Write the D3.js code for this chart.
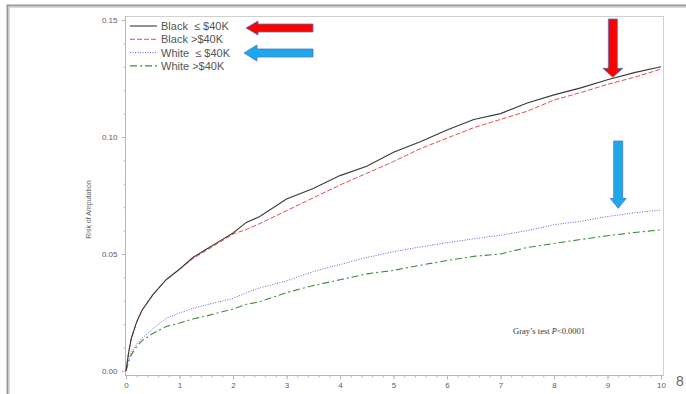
<!DOCTYPE html>
<html>
<head>
<meta charset="utf-8">
<script src="https://cdn.jsdelivr.net/npm/d3@7"></script>
<style>
  body { margin: 0; background: #fff; }
  svg { display: block; }
  text { font-family: "Liberation Sans", Arial, sans-serif; }
</style>
</head>
<body>
<svg id="chart"></svg>
<script>
// time in years
const years = [0, 0.05, 0.1, 0.2, 0.3, 0.5, 0.75, 1, 1.25, 1.5, 1.75, 2, 2.25, 2.5, 3, 3.5, 4, 4.5, 5, 5.5, 6, 6.5, 7, 7.5, 8, 8.5, 9, 9.5, 10];

// cumulative risk of amputation
const blackLow  = [0, 0.008, 0.014, 0.021, 0.026, 0.0325, 0.039, 0.0435, 0.0485, 0.052, 0.0555, 0.059, 0.0635, 0.066, 0.0735, 0.078, 0.0835, 0.0875, 0.0935, 0.098, 0.103, 0.1075, 0.110, 0.1145, 0.118, 0.121, 0.1245, 0.1275, 0.130];
const blackHigh = [0, 0.008, 0.014, 0.021, 0.026, 0.0325, 0.039, 0.0435, 0.048, 0.0515, 0.055, 0.0585, 0.0605, 0.063, 0.0685, 0.074, 0.0795, 0.0845, 0.0895, 0.095, 0.0995, 0.104, 0.1075, 0.111, 0.1158, 0.119, 0.1225, 0.1255, 0.129];
const whiteLow  = [0, 0.005, 0.008, 0.0115, 0.014, 0.018, 0.0225, 0.0248, 0.0268, 0.0283, 0.0296, 0.031, 0.0335, 0.0355, 0.0385, 0.0425, 0.0455, 0.0485, 0.051, 0.053, 0.0548, 0.0565, 0.058, 0.060, 0.0625, 0.064, 0.066, 0.0676, 0.0688];
const whiteHigh = [0, 0.004, 0.007, 0.0105, 0.013, 0.016, 0.019, 0.0205, 0.0222, 0.0235, 0.025, 0.0265, 0.0285, 0.0296, 0.0335, 0.0365, 0.039, 0.0415, 0.043, 0.0452, 0.0472, 0.049, 0.050, 0.0528, 0.0545, 0.0562, 0.0578, 0.0592, 0.0603];

const seriesNames = ["Black  \u2264 $40K", "Black >$40K", "White  \u2264 $40K", "White >$40K"];
const xTicks = [0, 1, 2, 3, 4, 5, 6, 7, 8, 9, 10];
const yTicks = [0, 0.05, 0.10, 0.15];

const W = 686, H = 394;
const svg = d3.select("#chart").attr("width", W).attr("height", H);
svg.append("rect").attr("width", W).attr("height", H).attr("fill", "#fff");

// slide frame
svg.append("path").attr("d", "M7.5,394 V5.5 H686").attr("fill", "none")
  .attr("stroke", "#999").attr("stroke-width", 2);
svg.append("path").attr("d", "M9.5,394 V7.5 H686").attr("fill", "none")
  .attr("stroke", "#d8d8d8").attr("stroke-width", 1);

const x = d3.scaleLinear().domain([0, 10]).range([126, 661]);
const y = d3.scaleLinear().domain([0, 0.15]).range([371, 20]);

const box = { left: 125, right: 663, top: 16, bottom: 375 };

// plot frame
svg.append("rect")
  .attr("x", box.left + 0.5).attr("y", box.top + 0.5)
  .attr("width", box.right - box.left).attr("height", box.bottom - box.top)
  .attr("fill", "none").attr("stroke", "#d0d0d0");

const axisCol = "#b8b8b8", labelCol = "#606060";

// x axis
const xAxis = svg.append("g").attr("transform", `translate(0,${box.bottom + 0.5})`);
xAxis.append("g")
  .call(d3.axisBottom(x).tickValues(d3.range(0, 10.001, 0.2)).tickSize(2).tickFormat(""))
  .call(g => g.select(".domain").remove())
  .call(g => g.selectAll("line").attr("stroke", axisCol));
xAxis.append("g")
  .call(d3.axisBottom(x).tickValues(xTicks).tickSize(4).tickPadding(3).tickFormat(d3.format("d")))
  .call(g => g.select(".domain").attr("stroke", axisCol).attr("d", `M${box.left},0H${box.right}`))
  .call(g => g.selectAll("line").attr("stroke", axisCol))
  .call(g => g.selectAll("text").attr("fill", labelCol).attr("font-size", 8)
    .style("font-family", '"Liberation Sans", Arial, sans-serif'));

// y axis
const yAxis = svg.append("g").attr("transform", `translate(${box.left + 0.5},0)`);
yAxis.append("g")
  .call(d3.axisLeft(y).tickValues(d3.range(0, 0.1501, 0.01)).tickSize(2).tickFormat(""))
  .call(g => g.select(".domain").remove())
  .call(g => g.selectAll("line").attr("stroke", axisCol));
yAxis.append("g")
  .call(d3.axisLeft(y).tickValues(yTicks).tickSize(4).tickPadding(4).tickFormat(d3.format(".2f")))
  .call(g => g.select(".domain").attr("stroke", axisCol).attr("d", `M0,${box.top}V${box.bottom}`))
  .call(g => g.selectAll("line").attr("stroke", axisCol))
  .call(g => g.selectAll("text").attr("fill", labelCol).attr("font-size", 8)
    .style("font-family", '"Liberation Sans", Arial, sans-serif'));

svg.append("text")
  .attr("transform", `translate(91,${(y(0) + y(0.15)) / 2 + 14}) rotate(-90)`)
  .attr("text-anchor", "middle").attr("font-size", 7).attr("fill", labelCol)
  .text("Risk of Amputation");

// curves
const styles = [
  { data: blackLow,  color: "#3a3a3a", dash: null,      width: 1.1 },
  { data: blackHigh, color: "#e05050", dash: "5,2",     width: 1 },
  { data: whiteLow,  color: "#6060e0", dash: "1,1.5",   width: 1 },
  { data: whiteHigh, color: "#3f8a3f", dash: "7,3,2,3", width: 1.1 }
];
const line = d3.line().x(d => x(d[0])).y(d => y(d[1]));
styles.slice().reverse().forEach(s => {
  svg.append("path")
    .datum(years.map((t, i) => [t, s.data[i]]))
    .attr("d", line)
    .attr("fill", "none")
    .attr("stroke", s.color)
    .attr("stroke-width", s.width)
    .attr("stroke-dasharray", s.dash);
});

// legend
const legend = svg.append("g");
styles.forEach((s, i) => {
  const ly = 26 + i * 13.3;
  legend.append("line")
    .attr("x1", 130).attr("x2", 157).attr("y1", ly).attr("y2", ly)
    .attr("stroke", s.color).attr("stroke-width", s.width)
    .attr("stroke-dasharray", s.dash);
  legend.append("text")
    .attr("x", 161).attr("y", ly + 4)
    .attr("font-size", 11).attr("fill", "#555")
    .style("white-space", "pre")
    .text(seriesNames[i]);
});

// annotation arrows
const outline = "#4a78c8";
function leftArrow(tipX, cy, endX, body, head, headLen, fill) {
  const p = d3.path();
  p.moveTo(tipX, cy);
  p.lineTo(tipX + headLen, cy - head / 2);
  p.lineTo(tipX + headLen, cy - body / 2);
  p.lineTo(endX, cy - body / 2);
  p.lineTo(endX, cy + body / 2);
  p.lineTo(tipX + headLen, cy + body / 2);
  p.lineTo(tipX + headLen, cy + head / 2);
  p.closePath();
  svg.append("path").attr("d", p.toString()).attr("fill", fill)
    .attr("stroke", outline).attr("stroke-width", 0.8);
}
function downArrow(cx, topY, tipY, body, head, headLen, fill) {
  const p = d3.path();
  p.moveTo(cx, tipY);
  p.lineTo(cx - head / 2, tipY - headLen);
  p.lineTo(cx - body / 2, tipY - headLen);
  p.lineTo(cx - body / 2, topY);
  p.lineTo(cx + body / 2, topY);
  p.lineTo(cx + body / 2, tipY - headLen);
  p.lineTo(cx + head / 2, tipY - headLen);
  p.closePath();
  svg.append("path").attr("d", p.toString()).attr("fill", fill)
    .attr("stroke", outline).attr("stroke-width", 0.8);
}
leftArrow(246, 28, 313, 8, 14, 12, "#ff0000");
leftArrow(244, 53, 313, 8, 16, 13, "#1ea7ea");
downArrow(x(9.1), 19, y(0.1255), 9, 20, 9, "#ff0000");
downArrow(x(9.2), 141, y(0.0695), 9, 16, 10, "#1ea7ea");

// test annotation
svg.append("text")
  .attr("x", 513).attr("y", 334)
  .attr("font-size", 8.5).attr("fill", "#333")
  .style("font-family", '"Liberation Serif", "Times New Roman", serif')
  .html('Gray\u2019s test <tspan font-style="italic">P</tspan>&lt;0.0001');

// slide number
svg.append("text")
  .attr("x", 676).attr("y", 386)
  .attr("font-size", 14).attr("fill", "#666")
  .text("8");
</script>
</body>
</html>
